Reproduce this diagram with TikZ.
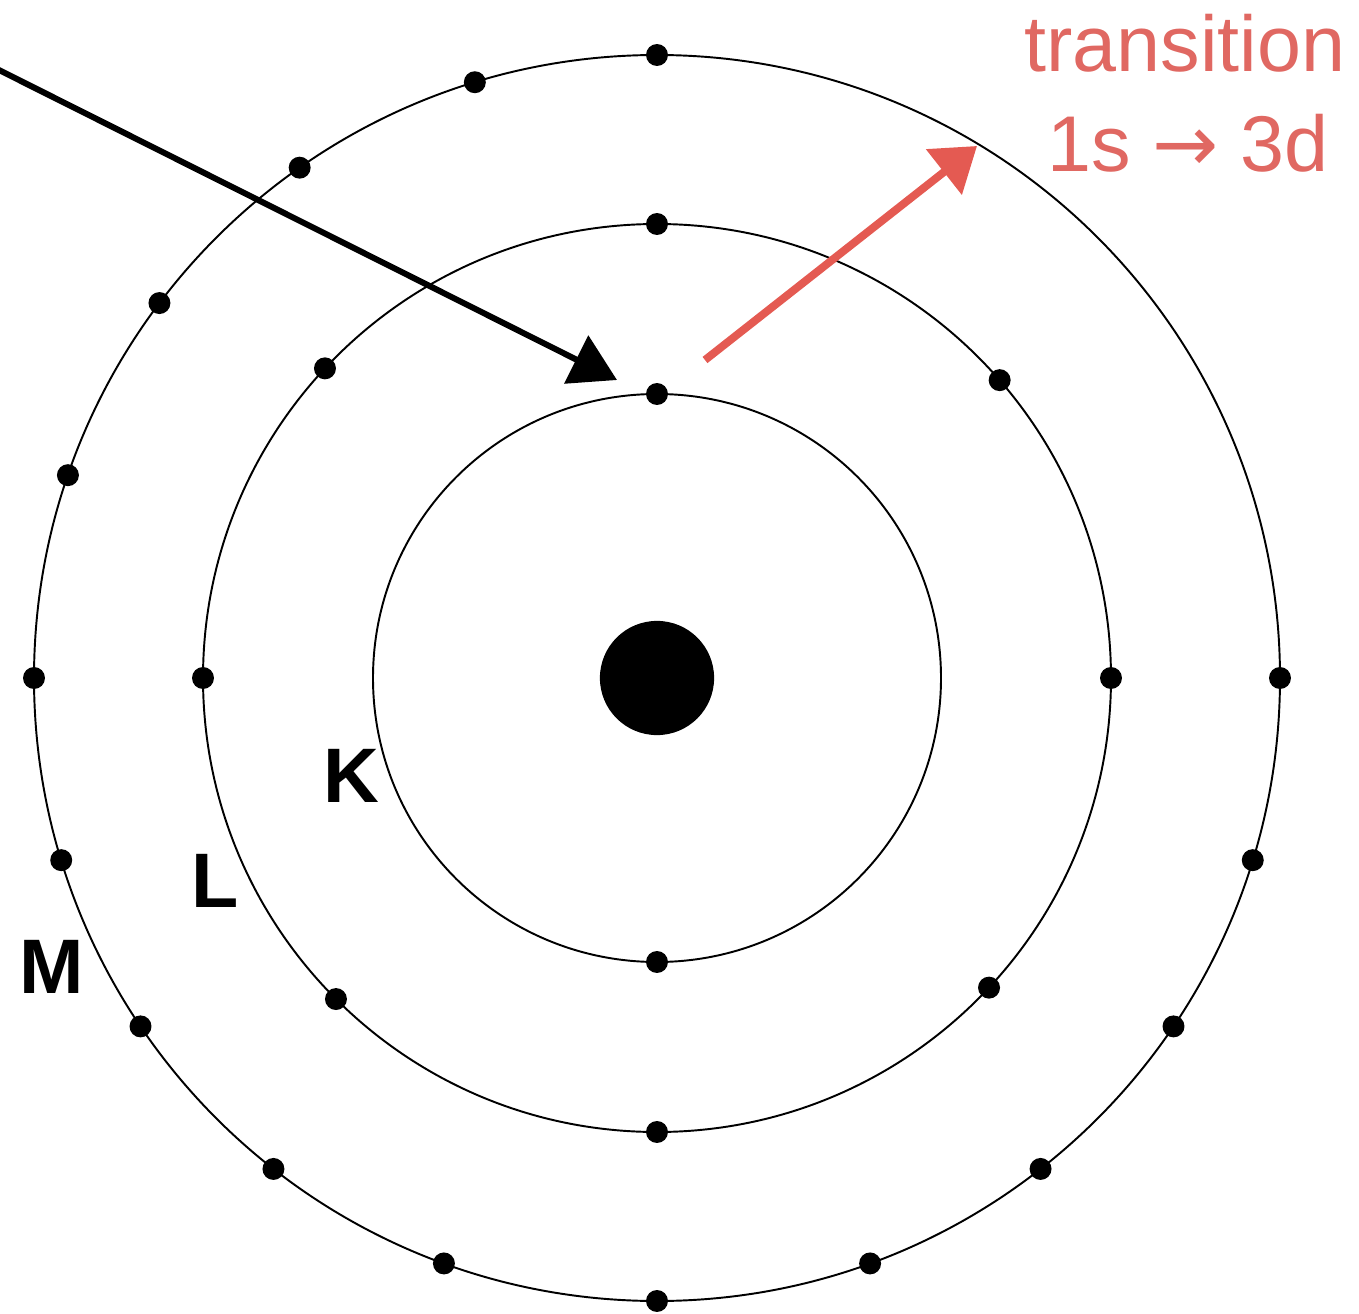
\documentclass[tikz,border=0pt]{standalone}
\usepackage{fontspec}
\setmainfont{Liberation Sans}
\newfontfamily\arrowfont{DejaVu Sans}
\usetikzlibrary{arrows.meta}
\definecolor{trred}{RGB}{224,104,98}
\definecolor{arrred}{RGB}{228,90,82}
\tikzset{
  shell/.style={draw=black, line width=1.1pt},
  electron/.style={circle, fill=black, inner sep=0pt, minimum size=12.5pt},
  shelllabel/.style={font=\fontsize{44}{44}\selectfont\bfseries, inner sep=0pt, anchor=base},
  trtext/.style={font=\fontsize{45}{45}\selectfont, text=trred, inner sep=0pt, anchor=base},
}
\begin{document}
\begin{tikzpicture}[x=0.02cm, y=-0.02cm]
\useasboundingbox (0,0) rectangle (1359,1314);
\coordinate (C) at (657,678);
% shells
\draw[shell] (C) circle[radius=284];
\draw[shell] (C) circle[radius=454];
\draw[shell] (C) circle[radius=623];
% nucleus
\node[circle, fill=black, inner sep=0pt, minimum size=65pt] (nuc) at (C) {};
% K electrons
\foreach \a [count=\i] in {90,270}
  \node[electron] (k\i) at ({657+284*cos(\a)},{678-284*sin(\a)}) {};
% L electrons
\foreach \a [count=\i] in {0,41,90,137,180,225,270,317}
  \node[electron] (l\i) at ({657+454*cos(\a)},{678-454*sin(\a)}) {};
% M electrons
\foreach \a [count=\i] in {0,90,107,125,143,161,180,197,214,232,250,270,290,308,326,343}
  \node[electron] (m\i) at ({657+623*cos(\a)},{678-623*sin(\a)}) {};
% labels
\node[shelllabel] (lK) at (351,802) {K};
\node[shelllabel] (lL) at (215,907) {L};
\node[shelllabel] (lM) at (52,993) {M};
% incoming arrow
\coordinate (inS) at (-5,68);
\coordinate (inT) at (617,380);
\draw[line width=3.4pt, -{Triangle[length=26pt,width=30pt]}] (inS) -- (inT);
% transition arrow
\coordinate (trS) at (705,360);
\coordinate (trT) at (977,146);
\draw[arrred, line width=4.5pt, -{Triangle[length=24pt,width=32pt]}] (trS) -- (trT);
% text
\node[trtext] (t1) at (1185,72) {transition};
\node[trtext] (t2) at (1188,172) {1s {\arrowfont →} 3d};
\end{tikzpicture}
\end{document}
